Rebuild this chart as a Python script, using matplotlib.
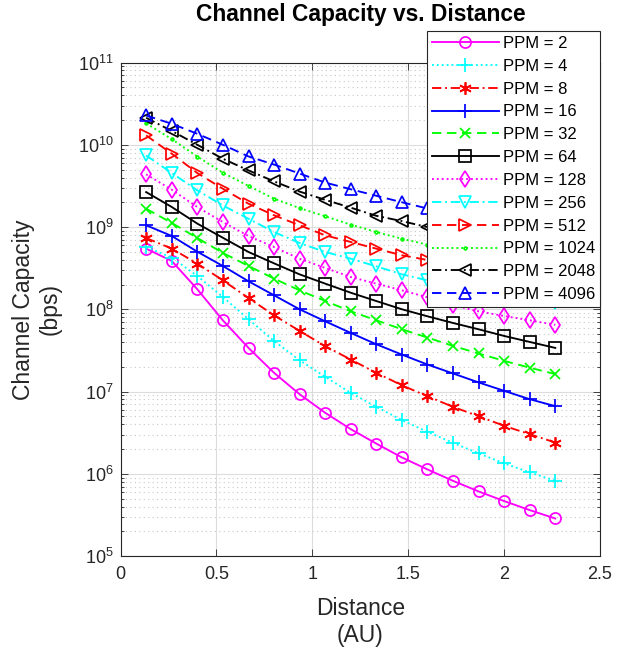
import matplotlib
matplotlib.use("Agg")
import matplotlib.pyplot as plt
from matplotlib.ticker import LogLocator, NullFormatter

# ── Data ─────────────────────────────────────────────────────────────────────
distance_au = [0.133, 0.267, 0.400, 0.533, 0.667, 0.800, 0.933, 1.067, 1.200,
               1.333, 1.467, 1.600, 1.733, 1.867, 2.000, 2.133, 2.267]

ppm_orders = [2, 4, 8, 16, 32, 64, 128, 256, 512, 1024, 2048, 4096]

cap_ppm2 = [5.46e8, 3.86e8, 1.75e8, 7.35e7, 3.39e7, 1.69e7, 9.29e6, 5.51e6, 3.49e6,
            2.33e6, 1.58e6, 1.13e6, 8.22e5, 6.10e5, 4.66e5, 3.62e5, 2.86e5]
cap_ppm4 = [5.71e8, 4.25e8, 2.54e8, 1.41e8, 7.57e7, 4.12e7, 2.40e7, 1.51e7, 9.64e6,
            6.52e6, 4.49e6, 3.24e6, 2.38e6, 1.77e6, 1.34e6, 1.04e6, 8.22e5]
cap_ppm8 = [7.35e8, 5.46e8, 3.59e8, 2.25e8, 1.37e8, 8.45e7, 5.46e7, 3.56e7, 2.45e7,
            1.69e7, 1.19e7, 8.77e6, 6.52e6, 5.01e6, 3.83e6, 3.03e6, 2.40e6]
cap_ppm16 = [1.05e9, 7.78e8, 5.01e8, 3.36e8, 2.19e8, 1.48e8, 1.00e8, 7.14e7, 5.16e7,
             3.76e7, 2.81e7, 2.13e7, 1.66e7, 1.29e7, 1.02e7, 8.07e6, 6.64e6]
cap_ppm32 = [1.67e9, 1.12e9, 7.35e8, 4.85e8, 3.36e8, 2.36e8, 1.70e8, 1.26e8, 9.46e7,
             7.35e7, 5.71e7, 4.53e7, 3.59e7, 2.90e7, 2.36e7, 1.95e7, 1.63e7]
cap_ppm64 = [2.66e9, 1.75e9, 1.10e9, 7.41e8, 4.97e8, 3.62e8, 2.66e8, 2.05e8, 1.59e8,
             1.26e8, 1.00e8, 8.22e7, 6.82e7, 5.71e7, 4.74e7, 4.01e7, 3.39e7]
cap_ppm128 = [4.37e9, 2.84e9, 1.75e9, 1.15e9, 7.78e8, 5.71e8, 4.12e8, 3.18e8, 2.47e8,
              2.05e8, 1.70e8, 1.40e8, 1.12e8, 9.44e7, 8.28e7, 7.35e7, 6.46e7]
cap_ppm256 = [7.41e9, 4.53e9, 2.79e9, 1.83e9, 1.26e9, 8.69e8, 6.40e8, 4.97e8, 4.12e8,
              3.33e8, 2.66e8, 2.25e8, 1.95e8, 1.70e8, 1.51e8, 1.35e8, 1.20e8]
cap_ppm512 = [1.30e10, 7.78e9, 4.53e9, 2.92e9, 1.92e9, 1.39e9, 1.05e9, 7.93e8, 6.58e8,
              5.46e8, 4.53e8, 3.98e8, 3.51e8, 3.09e8, 2.75e8, 2.48e8, 2.24e8]
cap_ppm1024 = [1.82e10, 1.17e10, 7.18e9, 4.57e9, 3.16e9, 2.21e9, 1.70e9, 1.35e9, 1.07e9,
               8.69e8, 7.21e8, 6.10e8, 5.25e8, 4.57e8, 3.98e8, 3.55e8, 3.16e8]
cap_ppm2048 = [2.13e10, 1.47e10, 1.00e10, 6.76e9, 4.88e9, 3.59e9, 2.70e9, 2.14e9, 1.72e9,
               1.37e9, 1.18e9, 9.98e8, 8.61e8, 7.50e8, 6.61e8, 5.89e8, 5.25e8]
cap_ppm4096 = [2.27e10, 1.80e10, 1.36e10, 1.00e10, 7.21e9, 5.75e9, 4.47e9, 3.47e9, 2.88e9,
               2.40e9, 2.00e9, 1.68e9, 1.45e9, 1.26e9, 1.11e9, 9.77e8, 8.71e8]

capacities = [cap_ppm2, cap_ppm4, cap_ppm8, cap_ppm16, cap_ppm32, cap_ppm64,
              cap_ppm128, cap_ppm256, cap_ppm512, cap_ppm1024, cap_ppm2048, cap_ppm4096]

x_ticks = [0, 0.5, 1, 1.5, 2, 2.5]
x_tick_labels = ["0", "0.5", "1", "1.5", "2", "2.5"]

# ── Styles (MATLAB-like colour/line/marker cycle) ────────────────────────────
SOLID = "-"
DOT = (0, (1, 1.6))
DASHDOT = (0, (5, 2, 1, 2))
DASH = (0, (5, 3))
ASTERISK = (6, 2, 0)

styles = [
    ("#ff00ff", SOLID,   "o"),
    ("#00ffff", DOT,     "+"),
    ("#ff0000", DASHDOT, ASTERISK),
    ("#0000ff", SOLID,   "+"),
    ("#00ff00", DASH,    "x"),
    ("#000000", SOLID,   "s"),
    ("#ff00ff", DOT,     "d"),
    ("#00ffff", DASHDOT, "v"),
    ("#ff0000", DASH,    ">"),
    ("#00ff00", DOT,     "."),
    ("#000000", DASHDOT, "<"),
    ("#0000ff", DASH,    "^"),
]
marker_sizes = [8, 10, 9, 10, 7, 8, 8, 8.5, 8.5, 4, 8.5, 8.5]

plt.rcParams.update({
    "font.family": ["Liberation Sans", "DejaVu Sans"],
    "mathtext.fontset": "custom",
    "mathtext.rm": "Liberation Sans",
    "mathtext.it": "Liberation Sans:italic",
})

AX_COLOR = "#262626"

fig = plt.figure(figsize=(6.17, 6.54), dpi=100)
ax = fig.add_axes([0.1955, 0.1498, 0.7769, 0.7546])

for ppm, caps, (color, ls, mk), ms in zip(ppm_orders, capacities, styles, marker_sizes):
    ax.plot(distance_au, caps, color=color, linestyle=ls, marker=mk,
            markersize=ms, markerfacecolor="none", markeredgecolor=color,
            markeredgewidth=1.25, linewidth=1.35, label=f"PPM = {ppm}",
            zorder=3)

ax.set_yscale("log")
ax.set_xlim(0, 2.5)
ax.set_ylim(1e5, 1e11)
ax.set_xticks(x_ticks)
ax.set_xticklabels(x_tick_labels)
ax.yaxis.set_major_locator(LogLocator(base=10, numticks=10))
ax.yaxis.set_minor_locator(LogLocator(base=10, subs=range(2, 10), numticks=20))
ax.yaxis.set_minor_formatter(NullFormatter())

# grid: solid major, dotted minor (y only)
ax.grid(True, which="major", color="#dcdcdc", linestyle="-", linewidth=0.8, zorder=0)
ax.grid(True, which="minor", axis="y", color="#c8c8c8", linestyle=(0, (1, 3)),
        linewidth=0.8, zorder=0)
ax.set_axisbelow(True)

ax.tick_params(which="both", direction="in", top=True, right=True,
               colors=AX_COLOR, labelsize=13, width=0.6)
ax.tick_params(which="major", length=5)
ax.tick_params(which="minor", length=2.5)
ax.tick_params(axis="x", pad=7)
ax.tick_params(axis="y", pad=5)
for spine in ax.spines.values():
    spine.set_edgecolor(AX_COLOR)
    spine.set_linewidth(0.8)

ax.set_xlabel("Distance\n(AU)", fontsize=16.5, color=AX_COLOR, labelpad=10,
              linespacing=1.22)
ax.set_ylabel("Channel Capacity\n(bps)", fontsize=16.5, color=AX_COLOR, labelpad=12,
              linespacing=1.2)

# title sits above the legend, centred on the axes
fig.text(0.584, 1 - 15 / 654, "Channel Capacity vs. Distance", fontsize=16.4,
         fontweight="bold", color="black", ha="center", va="center")

leg = ax.legend(loc="upper right", bbox_to_anchor=(1.0, 1.064),
                borderaxespad=0, fontsize=12, handlelength=4.0,
                labelspacing=0.47, handletextpad=0.25, borderpad=0.3,
                numpoints=1, fancybox=False, framealpha=1, edgecolor=AX_COLOR)
leg.get_frame().set_linewidth(0.8)
leg.set_zorder(5)

fig.savefig("out.png", dpi=100, facecolor="white")
